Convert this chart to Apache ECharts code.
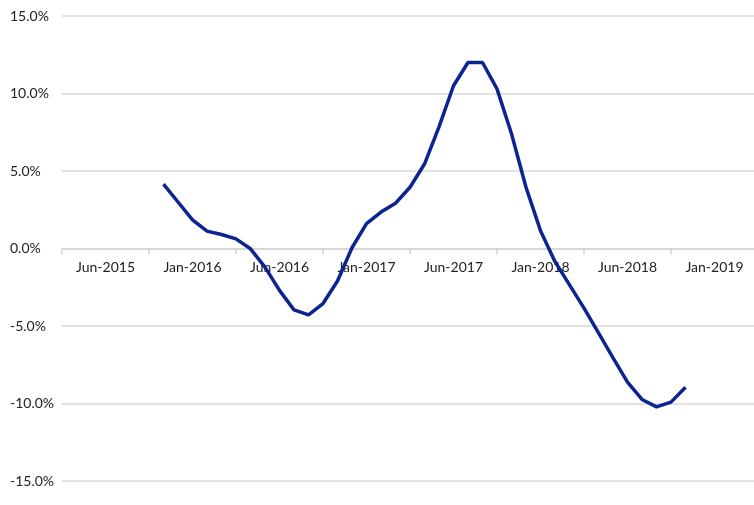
<!DOCTYPE html>
<html>
<head>
<meta charset="utf-8">
<script src="https://cdn.jsdelivr.net/npm/echarts@6/dist/echarts.min.js"></script>
<style>
html,body{margin:0;padding:0;background:#fff;}
#chart{width:754px;height:505px;}
</style>
</head>
<body>
<div id="chart"></div>
<script>
// Tick labels (each spans 6 months on the axis)
var tickLabels = ['Jun-2015','Jan-2016','Jun-2016','Jan-2017','Jun-2017','Jan-2018','Jun-2018','Jan-2019'];
// Month index (from start of axis) of first data point
var firstMonth = 7;
// Monthly series values (%)
var values = [4.15, 3.0, 1.85, 1.12, 0.9, 0.62, -0.02, -1.2, -2.7, -3.96, -4.28, -3.55, -2.1, 0.05,
  1.6, 2.35, 2.92, 3.95, 5.45, 7.85, 10.5, 12.0, 12.0, 10.3, 7.4, 3.95, 1.15, -0.85, -2.35,
  -3.85, -5.45, -7.05, -8.62, -9.74, -10.22, -9.91, -8.95];
var yTicks = [-15, -10, -5, 0, 5, 10, 15];

var seriesData = values.map(function (v, i) { return [firstMonth + i, v]; });
var monthsTotal = tickLabels.length * 6;

var gridTop = 16, gridBottom = 24, chartH = 505;
var plotH = chartH - gridTop - gridBottom;
// distance from bottom of plot to the zero line
var zeroOffset = plotH * (0 - yTicks[0]) / (yTicks[yTicks.length - 1] - yTicks[0]);

var chart = echarts.init(document.getElementById('chart'));
chart.setOption({
  animation: false,
  backgroundColor: '#ffffff',
  grid: { left: 62, right: -4, top: gridTop, bottom: gridBottom, containLabel: false, outerBoundsMode: 'none' },
  xAxis: [
    {
      type: 'category', data: tickLabels, boundaryGap: true, position: 'bottom', offset: -zeroOffset,
      axisLine: { show: true, onZero: false, lineStyle: { color: '#d4d4d4', width: 1.5 } },
      axisTick: { show: true, interval: 0, length: 6, lineStyle: { color: '#d4d4d4', width: 1.5 } },
      axisLabel: { interval: 0, margin: 12, color: '#222', fontFamily: 'Lato, "Open Sans", sans-serif', fontSize: 14 },
      splitLine: { show: false }
    },
    {
      type: 'value', min: 0, max: monthsTotal, interval: 6, show: false, position: 'bottom'
    }
  ],
  yAxis: {
    type: 'value', min: yTicks[0], max: yTicks[yTicks.length - 1], interval: 5,
    axisLine: { show: false }, axisTick: { show: false },
    splitLine: { lineStyle: { color: '#d9d9d9', width: 1.5 } },
    axisLabel: {
      align: 'left', margin: 52, color: '#222', fontFamily: 'Lato, "Open Sans", sans-serif', fontSize: 14,
      formatter: function (v) { return v.toFixed(1) + '%'; }
    }
  },
  series: [{
    type: 'line', xAxisIndex: 1, data: seriesData, showSymbol: false, smooth: false,
    lineStyle: { color: '#0d2391', width: 3.5 }, itemStyle: { color: '#0d2391' }
  }]
});
</script>
</body>
</html>
